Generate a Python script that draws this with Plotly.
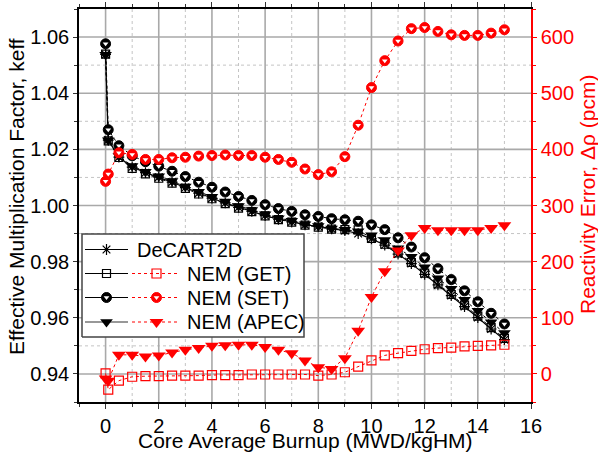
import plotly.graph_objects as go

# ---------------- data ----------------
burnup = [0, 0.1, 0.5, 1, 1.5, 2, 2.5, 3, 3.5, 4, 4.5, 5, 5.5, 6, 6.5, 7, 7.5,
          8, 8.5, 9, 9.5, 10, 10.5, 11, 11.5, 12, 12.5, 13, 13.5, 14, 14.5, 15]

keff_decart = [1.0538, 1.0233, 1.0172, 1.0137, 1.0117, 1.0101, 1.0083, 1.0064, 1.0044, 1.0026,
               1.0009, 0.9993, 0.9979, 0.9964, 0.9951, 0.9942, 0.9931, 0.9926, 0.9917, 0.9911,
               0.9900, 0.9881, 0.9859, 0.9827, 0.9793, 0.9755, 0.9717, 0.9679, 0.9640, 0.9601,
               0.9560, 0.9522]
keff_get = [1.0539, 1.0230, 1.0171, 1.0132, 1.0113, 1.0097, 1.0080, 1.0061, 1.0041, 1.0024,
            1.0007, 0.9991, 0.9978, 0.9963, 0.9950, 0.9941, 0.9930, 0.9923, 0.9916, 0.9914,
            0.9913, 0.9883, 0.9862, 0.9831, 0.9797, 0.9759, 0.9721, 0.9683, 0.9645, 0.9606,
            0.9565, 0.9527]
keff_set = [1.0576, 1.0270, 1.0213, 1.0177, 1.0156, 1.0140, 1.0122, 1.0103, 1.0083, 1.0065,
            1.0048, 1.0032, 1.0018, 1.0003, 0.9989, 0.9979, 0.9967, 0.9961, 0.9953, 0.9949,
            0.9944, 0.9931, 0.9914, 0.9885, 0.9852, 0.9814, 0.9775, 0.9736, 0.9696, 0.9657,
            0.9616, 0.9578]
keff_apec = [1.0537, 1.0232, 1.0176, 1.0141, 1.0120, 1.0104, 1.0087, 1.0068, 1.0049, 1.0031,
             1.0014, 0.9998, 0.9984, 0.9969, 0.9955, 0.9946, 0.9933, 0.9927, 0.9918, 0.9914,
             0.9908, 0.9894, 0.9877, 0.9848, 0.9817, 0.9780, 0.9741, 0.9703, 0.9664, 0.9625,
             0.9584, 0.9546]

drho_get = [1, -28, -12, -5, -4, -4, -3, -3, -3, -2, -2, -2, -1, -1, -1, -1, -1, -3, -1, 3,
            13, 24, 33, 37, 41, 44, 46, 47, 49, 50, 51, 52]
drho_set = [343, 356, 394, 391, 382, 382, 385, 386, 388, 389, 390, 389, 389, 386, 382, 377,
            365, 355, 360, 387, 443, 510, 558, 593, 615, 617, 610, 604, 603, 603, 607, 613]
drho_apec = [-8, -12, 34, 34, 31, 33, 38, 43, 46, 50, 51, 52, 52, 48, 43, 37, 24, 12, 9, 28,
             77, 137, 183, 220, 247, 260, 256, 256, 256, 256, 260, 265]

legend_labels = ["DeCART2D", "NEM (GET)", "NEM (SET)", "NEM (APEC)"]

x_major = [0, 2, 4, 6, 8, 10, 12, 14]
x_minor = [1, 3, 5, 7, 9, 11, 13, 15]
k_major = [0.94, 0.96, 0.98, 1.00, 1.02, 1.04, 1.06]
k_minor = [0.95, 0.97, 0.99, 1.01, 1.03, 1.05]

# ---------------- style ----------------
FONT = "Liberation Sans, Arial, sans-serif"
RED = "#ff0000"
BLACK = "#000000"
W, H = 598, 454
L, R, T, B = 79, 531, 9, 402   # plot area in pixels
XR = [-1, 16]
YR = [0.93, 1.07]
Y2R = [-50, 650]
GRID = "#a9a9a9"
MINGRID = "#c4c4c4"


def px2x(px):
    return XR[0] + (px - L) / (R - L) * (XR[1] - XR[0])


def px2y(py):
    return YR[0] + (B - py) / (B - T) * (YR[1] - YR[0])


fig = go.Figure()


def vlines(vals, color, width, dash):
    xs, ys = [], []
    for v in vals:
        xs += [v, v, None]
        ys += [YR[0], YR[1], None]
    fig.add_trace(go.Scatter(x=xs, y=ys, mode="lines", showlegend=False, hoverinfo="skip",
                             line=dict(color=color, width=width, dash=dash)))


def hlines(vals, color, width, dash):
    xs, ys = [], []
    for v in vals:
        xs += [XR[0], XR[1], None]
        ys += [v, v, None]
    fig.add_trace(go.Scatter(x=xs, y=ys, mode="lines", showlegend=False, hoverinfo="skip",
                             line=dict(color=color, width=width, dash=dash)))


# grid (minor dotted, major solid)
vlines(x_minor, MINGRID, 1, "dot")
hlines(k_minor, MINGRID, 1, "dot")
vlines(x_major, GRID, 1.6, "solid")
hlines(k_major, GRID, 1.6, "solid")


def half_circle(x, y, color, yaxis="y", size=10):
    fig.add_trace(go.Scatter(x=x, y=y, yaxis=yaxis, mode="markers", showlegend=False,
                             hoverinfo="skip",
                             marker=dict(symbol="circle", size=size, color=color,
                                         line=dict(color=color, width=1))))
    fig.add_trace(go.Scatter(x=x, y=y, yaxis=yaxis, mode="markers", showlegend=False,
                             hoverinfo="skip",
                             marker=dict(symbol="triangle-down", size=size * 0.5, color="white",
                                         line=dict(width=0))))


DEC_M = dict(symbol="asterisk-open", size=9, color=BLACK, line=dict(color=BLACK, width=1.2))
GETK_M = dict(symbol="square-open", size=8, color=BLACK, line=dict(color=BLACK, width=1.2))
APECK_M = dict(symbol="triangle-down", size=11, color=BLACK, line=dict(width=0))
GETR_M = dict(symbol="square-open", size=9, color=RED, line=dict(color=RED, width=1.2))
APECR_M = dict(symbol="triangle-down", size=12, color=RED, line=dict(width=0))
RDASH = "3px,3px"

# ---------------- legend box (filled, hides the grid) ----------------
bx0, bx1, by0, by1 = px2x(82), px2x(304), px2y(337), px2y(234)
fig.add_trace(go.Scatter(x=[bx0, bx1, bx1, bx0, bx0], y=[by0, by0, by1, by1, by0],
                         mode="lines", fill="toself", fillcolor="white", showlegend=False,
                         hoverinfo="skip", line=dict(color="#444444", width=1.5)))

# black keff series
fig.add_trace(go.Scatter(x=burnup, y=keff_decart, mode="lines+markers", showlegend=False,
                         line=dict(color=BLACK, width=1.2), marker=DEC_M))
fig.add_trace(go.Scatter(x=burnup, y=keff_get, mode="lines+markers", showlegend=False,
                         line=dict(color=BLACK, width=1, dash="dot"), marker=GETK_M))
fig.add_trace(go.Scatter(x=burnup, y=keff_apec, mode="lines+markers", showlegend=False,
                         line=dict(color=BLACK, width=1, dash="dot"), marker=APECK_M))
fig.add_trace(go.Scatter(x=burnup, y=keff_set, mode="lines", showlegend=False,
                         line=dict(color=BLACK, width=1, dash="dot")))
half_circle(burnup, keff_set, BLACK, "y")

# ---------------- legend samples ----------------
rows_y = [249.5, 273.5, 297.5, 322]
black_m = [DEC_M, GETK_M, None, APECK_M]
red_m = [None, GETR_M, None, APECR_M]
for i, yy in enumerate(rows_y):
    fy = px2y(yy)
    fig.add_trace(go.Scatter(x=[px2x(85), px2x(128)], y=[fy, fy], mode="lines",
                             showlegend=False, hoverinfo="skip",
                             line=dict(color="#333333" if i == 3 else BLACK, width=1.2)))
    if black_m[i] is not None:
        fig.add_trace(go.Scatter(x=[px2x(106.5)], y=[fy], mode="markers",
                                 showlegend=False, hoverinfo="skip", marker=black_m[i]))
    else:
        half_circle([px2x(106.5)], [fy], BLACK, "y")
    if i > 0:
        fig.add_trace(go.Scatter(x=[px2x(132), px2x(180)], y=[fy, fy], mode="lines",
                                 showlegend=False, hoverinfo="skip",
                                 line=dict(color=RED, width=1, dash=RDASH)))
        if red_m[i] is not None:
            fig.add_trace(go.Scatter(x=[px2x(156.5)], y=[fy], mode="markers",
                                     showlegend=False, hoverinfo="skip", marker=red_m[i]))
        else:
            half_circle([px2x(156.5)], [fy], RED, "y")
    fig.add_annotation(x=px2x(135 if i == 0 else 185), y=fy, xref="x", yref="y",
                       text=legend_labels[i], showarrow=False, xanchor="left", yanchor="middle",
                       font=dict(family=FONT, size=20, color=BLACK))

# red reactivity-error series
fig.add_trace(go.Scatter(x=burnup, y=drho_get, yaxis="y2", mode="lines+markers", showlegend=False,
                         line=dict(color=RED, width=1, dash=RDASH), marker=GETR_M))
fig.add_trace(go.Scatter(x=burnup, y=drho_apec, yaxis="y2", mode="lines+markers", showlegend=False,
                         line=dict(color=RED, width=1, dash=RDASH), marker=APECR_M))
fig.add_trace(go.Scatter(x=burnup, y=drho_set, yaxis="y2", mode="lines", showlegend=False,
                         line=dict(color=RED, width=1, dash=RDASH)))
half_circle(burnup, drho_set, RED, "y2")

# ---------------- axis titles ----------------
fig.add_annotation(x=(305 - L) / (R - L), y=(B - 440) / (B - T), xref="paper", yref="paper",
                   text="Core Average Burnup (MWD/kgHM)", showarrow=False,
                   xanchor="center", yanchor="middle",
                   font=dict(family=FONT, size=21, color=BLACK))
fig.add_annotation(x=(17 - L) / (R - L), y=(B - 197) / (B - T), xref="paper", yref="paper",
                   text="Effective Multiplication Factor, keff", showarrow=False, textangle=-90,
                   xanchor="center", yanchor="middle",
                   font=dict(family=FONT, size=21, color=BLACK))
fig.add_annotation(x=(587 - L) / (R - L), y=(B - 194) / (B - T), xref="paper", yref="paper",
                   text="Reactivity Error, Δρ (pcm)", showarrow=False, textangle=-90,
                   xanchor="center", yanchor="middle",
                   font=dict(family=FONT, size=21, color=RED))

fig.update_layout(
    width=W, height=H,
    margin=dict(l=L, r=W - R, t=T, b=H - B, pad=0, autoexpand=False),
    paper_bgcolor="white", plot_bgcolor="white",
    font=dict(family=FONT, size=20, color=BLACK),
    showlegend=False,
    xaxis=dict(range=XR, tickmode="linear", tick0=0, dtick=2, ticks="outside", ticklen=5,
               tickwidth=1.2, tickcolor="#333333", showline=True, linecolor=BLACK, linewidth=1.5,
               mirror="ticks", automargin=False, showgrid=False, zeroline=False,
               tickfont=dict(family=FONT, size=20, color=BLACK),
               minor=dict(tickmode="linear", tick0=0, dtick=1, ticks="outside", ticklen=3,
                          tickcolor="#333333", showgrid=False)),
    yaxis=dict(range=YR, tickmode="linear", tick0=0.94, dtick=0.02, tickformat=".2f",
               ticks="outside", automargin=False,
               ticklen=4, tickwidth=1.2, tickcolor="#333333", showline=True, linecolor=BLACK,
               linewidth=1.5, showgrid=False, zeroline=False,
               tickfont=dict(family=FONT, size=20, color=BLACK),
               minor=dict(tickmode="linear", tick0=0.93, dtick=0.01, ticks="outside", ticklen=3,
                          tickcolor="#333333", showgrid=False)),
    yaxis2=dict(range=Y2R, tickmode="linear", tick0=0, dtick=100, overlaying="y", side="right",
                anchor="x", ticks="outside", ticklen=4, tickwidth=1.2, tickcolor=RED,
                showline=True, linecolor=RED, linewidth=1.5, showgrid=False, zeroline=False,
                automargin=False, tickfont=dict(family=FONT, size=20, color=RED),
                minor=dict(tickmode="linear", tick0=0, dtick=50, ticks="outside", ticklen=3,
                           tickcolor=RED)),
)

fig.write_html(
    "out.html",
    config={"displayModeBar": False},
    post_script="document.body.style.margin='0';document.body.style.overflow='hidden';",
)
